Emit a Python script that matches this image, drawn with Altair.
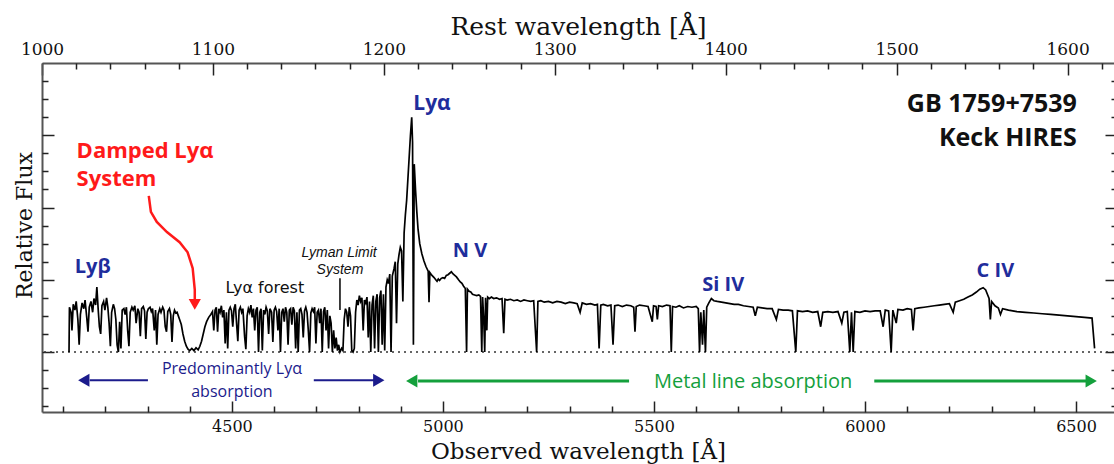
import altair as alt
import pandas as pd

# ---------------- data ----------------
ONE_PLUS_Z = 4.05
OBS_DOMAIN = [4050, 6590]
REST_DOMAIN = [OBS_DOMAIN[0] / ONE_PLUS_Z, OBS_DOMAIN[1] / ONE_PLUS_Z]
FLUX_DOMAIN = [-0.83, 4.0]

# Ly-beta region
wl_lyb = [4114, 4115, 4119, 4121, 4124, 4128, 4131, 4135, 4138, 4141, 4145, 4149, 4152, 4156, 4159,
          4162, 4166, 4170, 4173, 4177, 4180, 4183, 4186, 4189, 4192, 4196, 4199, 4203, 4206, 4209,
          4212, 4215, 4219, 4222, 4225, 4228, 4231, 4234, 4237, 4240, 4244, 4247, 4250, 4253, 4256,
          4259, 4263, 4266, 4270, 4273, 4277, 4280, 4283, 4286, 4290, 4293, 4296, 4299, 4302, 4306,
          4309, 4312, 4316, 4319, 4322, 4325, 4329, 4332, 4336, 4339, 4342, 4345, 4348, 4352, 4355,
          4358, 4361, 4364, 4367, 4370, 4373, 4376]
fx_lyb = [0.00, 0.62, 0.55, 0.30, 0.66, 0.58, 0.70, 0.45, 0.10, 0.52, 0.68, 0.60, 0.72, 0.48, 0.28,
          0.62, 0.70, 0.55, 0.74, 0.65, 0.90, 0.60, 0.35, 0.25, 0.64, 0.70, 0.58, 0.75, 0.62, 0.40,
          0.08, 0.55, 0.66, 0.60, 0.45, 0.10, 0.00, 0.42, 0.05, 0.58, 0.60, 0.52, 0.62, 0.30, 0.08,
          0.55, 0.62, 0.58, 0.64, 0.40, 0.60, 0.55, 0.22, 0.60, 0.63, 0.57, 0.18, 0.55, 0.60, 0.62,
          0.56, 0.60, 0.30, 0.58, 0.10, 0.52, 0.60, 0.55, 0.62, 0.58, 0.35, 0.28, 0.56, 0.60, 0.52,
          0.14, 0.50, 0.58, 0.54, 0.55, 0.50, 0.45]

# damped Ly-alpha trough
wl_dla = [4380, 4384, 4388, 4392, 4396, 4400, 4405, 4410, 4415, 4420, 4424, 4428, 4432, 4436, 4440,
          4445, 4450]
fx_dla = [0.38, 0.25, 0.15, 0.08, 0.04, 0.02, 0.05, 0.02, 0.06, 0.03, 0.08, 0.15, 0.25, 0.35, 0.42,
          0.48, 0.52]

# Ly-alpha forest
wl_forest = [4454, 4457, 4460, 4463, 4466, 4469, 4472, 4475, 4478, 4481, 4484, 4487, 4490, 4493, 4496,
             4499, 4502, 4505, 4508, 4511, 4514, 4517, 4520, 4523, 4526, 4530, 4533, 4536, 4539, 4542,
             4545, 4548, 4551, 4554, 4557, 4560, 4563, 4566, 4569, 4572, 4575, 4578, 4581, 4584, 4587,
             4590, 4594, 4597, 4600, 4603, 4606, 4609, 4612, 4615, 4618, 4621, 4624, 4627, 4630, 4633,
             4636, 4639, 4642, 4645, 4648, 4651, 4654, 4657, 4660, 4663, 4666, 4669, 4672, 4675, 4678,
             4681, 4684, 4687, 4690, 4693, 4696, 4699, 4702, 4705, 4708, 4711, 4714, 4717, 4720, 4723,
             4726, 4729, 4732, 4735, 4738, 4741, 4744, 4747, 4750, 4753, 4756, 4760]
fx_forest = [0.56, 0.30, 0.58, 0.62, 0.28, 0.60, 0.55, 0.64, 0.48, 0.58, 0.12, 0.55, 0.05, 0.58, 0.62,
             0.57, 0.35, 0.60, 0.66, 0.40, 0.15, 0.58, 0.62, 0.55, 0.60, 0.22, 0.04, 0.50, 0.60, 0.55,
             0.65, 0.48, 0.60, 0.30, 0.58, 0.62, 0.00, 0.55, 0.60, 0.02, 0.58, 0.52, 0.62, 0.57, 0.25,
             0.60, 0.55, 0.14, 0.58, 0.62, 0.56, 0.30, 0.60, 0.00, 0.55, 0.60, 0.42, 0.62, 0.55, 0.10,
             0.58, 0.60, 0.38, 0.62, 0.57, 0.05, 0.55, 0.00, 0.58, 0.60, 0.52, 0.20, 0.57, 0.62, 0.55,
             0.30, 0.00, 0.54, 0.60, 0.56, 0.62, 0.12, 0.55, 0.58, 0.40, 0.60, 0.00, 0.56, 0.62, 0.30,
             0.58, 0.05, 0.50, 0.40, 0.00, 0.30, 0.05, 0.20, 0.02, 0.10, 0.00, 0.05]

# Lyman limit system to the foot of Ly-alpha
wl_lls = [4763, 4766, 4769, 4772, 4775, 4778, 4781, 4784, 4787, 4790, 4793, 4796, 4799, 4802, 4805,
          4808, 4811, 4814, 4817, 4820, 4823, 4826, 4829, 4832, 4835, 4838, 4841, 4844, 4847, 4850,
          4853, 4856, 4859, 4862, 4865, 4868, 4871, 4874, 4877]
fx_lls = [0.02, 0.45, 0.60, 0.55, 0.35, 0.62, 0.50, 0.02, 0.00, 0.05, 0.55, 0.72, 0.65, 0.78, 0.70,
          0.75, 0.30, 0.72, 0.68, 0.76, 0.20, 0.70, 0.00, 0.65, 0.78, 0.05, 0.70, 0.80, 0.00, 0.75,
          0.85, 0.10, 0.80, 0.02, 0.90, 1.00, 0.95, 1.08, 0.00]

# Ly-alpha emission line
wl_lya = [4880, 4884, 4887, 4890, 4893, 4896, 4899, 4902, 4905, 4908, 4911, 4914, 4917, 4920, 4923,
          4926, 4928, 4930, 4932, 4935, 4938, 4941, 4945, 4950, 4955, 4960, 4965, 4967, 4969, 4974,
          4979, 4983]
fx_lya = [1.05, 1.15, 1.25, 0.40, 1.22, 1.35, 1.45, 1.40, 0.70, 1.65, 1.90, 2.10, 2.40, 2.70, 3.00,
          3.25, 2.90, 0.10, 2.60, 2.25, 1.95, 1.70, 1.50, 1.36, 1.26, 1.18, 1.12, 0.69, 1.10, 1.06,
          1.03, 1.00]

# red side: N V, Si IV, C IV and metal absorption lines
wl_red = [4986, 4989, 4992, 4996, 5000, 5004, 5008, 5012, 5016, 5020, 5024, 5028, 5032, 5037, 5041,
          5045, 5049, 5053, 5056, 5058, 5062, 5066, 5070, 5075, 5080, 5085, 5089, 5092, 5094, 5097,
          5099, 5101, 5104, 5106, 5110, 5115, 5120, 5127, 5134, 5140, 5144, 5147, 5152, 5160, 5168,
          5176, 5184, 5192, 5200, 5208, 5215, 5222, 5225, 5232, 5240, 5250, 5260, 5270, 5280, 5290,
          5300, 5310, 5318, 5325, 5330, 5340, 5350, 5360, 5366, 5370, 5374, 5380, 5390, 5398, 5403,
          5407, 5415, 5425, 5435, 5445, 5452, 5455, 5458, 5466, 5476, 5486, 5496, 5499, 5505, 5508,
          5511, 5520, 5530, 5538, 5541, 5544, 5552, 5560, 5570, 5580, 5590, 5600, 5605, 5608, 5611,
          5615, 5618, 5622, 5625, 5630, 5636, 5642, 5650, 5660, 5670, 5680, 5690, 5700, 5712, 5724,
          5735, 5740, 5745, 5756, 5768, 5780, 5790, 5795, 5806, 5818, 5828, 5836, 5840, 5852, 5864,
          5876, 5888, 5895, 5900, 5912, 5924, 5936, 5945, 5950, 5958, 5964, 5968, 5972, 5976, 5988,
          6000, 6012, 6024, 6036, 6043, 6048, 6056, 6062, 6066, 6074, 6078, 6090, 6100, 6110, 6114,
          6118, 6128, 6140, 6152, 6164, 6176, 6188, 6200, 6209, 6214, 6224, 6234, 6244, 6254, 6264,
          6272, 6280, 6286, 6290, 6294, 6297, 6300, 6308, 6316, 6321, 6326, 6340, 6360, 6380, 6400,
          6420, 6440, 6460, 6480, 6500, 6520, 6538, 6544]
fx_red = [0.98, 1.01, 0.99, 1.02, 1.03, 1.02, 1.06, 1.07, 1.09, 1.11, 1.08, 1.06, 1.04, 1.00, 0.97,
          0.95, 0.91, 0.88, 0.00, 0.87, 0.84, 0.83, 0.80, 0.79, 0.78, 0.79, 0.77, 0.00, 0.76, 0.40,
          0.00, 0.75, 0.30, 0.76, 0.74, 0.76, 0.74, 0.75, 0.73, 0.74, 0.26, 0.73, 0.72, 0.73, 0.71,
          0.72, 0.70, 0.72, 0.71, 0.70, 0.71, 0.00, 0.70, 0.71, 0.69, 0.70, 0.68, 0.70, 0.69, 0.67,
          0.69, 0.68, 0.67, 0.55, 0.68, 0.66, 0.67, 0.65, 0.66, 0.05, 0.65, 0.66, 0.64, 0.65, 0.10,
          0.64, 0.65, 0.63, 0.65, 0.64, 0.62, 0.28, 0.63, 0.65, 0.64, 0.63, 0.42, 0.64, 0.63, 0.45,
          0.64, 0.63, 0.65, 0.64, 0.00, 0.63, 0.62, 0.64, 0.61, 0.63, 0.62, 0.63, 0.60, 0.00, 0.55,
          0.10, 0.58, 0.00, 0.62, 0.68, 0.74, 0.71, 0.70, 0.69, 0.68, 0.67, 0.66, 0.66, 0.64, 0.63,
          0.62, 0.50, 0.62, 0.61, 0.60, 0.60, 0.45, 0.59, 0.58, 0.58, 0.57, 0.00, 0.57, 0.56, 0.57,
          0.55, 0.56, 0.35, 0.55, 0.56, 0.55, 0.56, 0.40, 0.55, 0.56, 0.00, 0.55, 0.00, 0.56, 0.55,
          0.57, 0.56, 0.57, 0.57, 0.35, 0.58, 0.57, 0.00, 0.58, 0.40, 0.59, 0.58, 0.60, 0.59, 0.30,
          0.60, 0.61, 0.62, 0.63, 0.64, 0.65, 0.66, 0.67, 0.55, 0.69, 0.71, 0.73, 0.76, 0.79, 0.83,
          0.87, 0.89, 0.86, 0.80, 0.74, 0.45, 0.70, 0.64, 0.61, 0.52, 0.60, 0.58, 0.56, 0.55, 0.54,
          0.53, 0.52, 0.51, 0.50, 0.49, 0.48, 0.47, 0.05]

# axis ticks
BOTTOM_MAJOR = [4500, 5000, 5500, 6000, 6500]
BOTTOM_MINOR = [4100, 4200, 4300, 4400, 4600, 4700, 4800, 4900, 5100, 5200, 5300, 5400,
                5600, 5700, 5800, 5900, 6100, 6200, 6300, 6400]
TOP_MAJOR = [1000, 1100, 1200, 1300, 1400, 1500, 1600]
TOP_MINOR = [1020, 1040, 1060, 1080, 1120, 1140, 1160, 1180, 1220, 1240, 1260, 1280,
             1320, 1340, 1360, 1380, 1420, 1440, 1460, 1480, 1520, 1540, 1560, 1580, 1620]
Y_MAJOR = [0, 1, 2, 3]
Y_MINOR = [-0.75, -0.5, -0.25, 0.25, 0.5, 0.75, 1.25, 1.5, 1.75, 2.25, 2.5, 2.75,
           3.25, 3.5, 3.75]

# annotations (observed wavelength, relative flux)
line_labels = ["Lyβ", "Lyα", "N V", "Si IV", "C IV"]
line_label_obs = [4170, 4974, 5064, 5664, 6309]
line_label_flux = [1.09, 3.35, 1.31, 0.84, 1.04]
line_label_size = [20, 21, 20, 20, 20]

dla_text = ["Damped Lyα", "System"]
dla_obs = [4132, 4132]
dla_flux = [2.685, 2.30]

qso_text = ["GB 1759+7539", "Keck HIRES"]
qso_obs = [6502, 6502]
qso_flux = [3.32, 2.85]

dla_arrow_obs = [4303, 4308, 4322, 4346, 4376, 4395, 4407, 4412, 4412]
dla_arrow_flux = [2.16, 1.94, 1.80, 1.66, 1.52, 1.38, 1.16, 0.86, 0.72]
dla_head_obs = [4412]
dla_head_flux = [0.66]

forest_text = ["Lyα forest"]
forest_obs = [4578]
forest_flux = [0.82]

lls_text = ["Lyman Limit", "System"]
lls_obs = [4754, 4756]
lls_flux = [1.32, 1.08]
lls_tick_obs = [4756]
lls_tick_top = [1.02]
lls_tick_bottom = [0.58]

range_text = ["Predominantly Lyα", "absorption", "Metal line absorption"]
range_text_obs = [4500, 4500, 5735]
range_text_flux = [-0.31, -0.625, -0.50]
range_text_size = [16, 16, 20]
range_text_color = ["#1b1b8c", "#1b1b8c", "#14a03c"]

arrow_x1 = [4163, 4694, 4941, 6022]
arrow_x2 = [4301, 4850, 5441, 6534]
arrow_y = [-0.39, -0.39, -0.40, -0.40]
arrow_color = ["#1b1b8c", "#1b1b8c", "#14a03c", "#14a03c"]
arrow_width = [2, 2, 3, 3]
head_obs = [4149, 4848, 4926, 6536]
head_y = [-0.39, -0.39, -0.40, -0.40]
head_shape = ["triangle-left", "triangle-right", "triangle-left", "triangle-right"]

# ---------------- build chart ----------------
spec = pd.DataFrame({
    "obs": wl_lyb + wl_dla + wl_forest + wl_lls + wl_lya + wl_red,
    "flux": fx_lyb + fx_dla + fx_forest + fx_lls + fx_lya + fx_red,
})

SERIF = "DejaVu Serif"
SANS = "Open Sans"
TICK = "#222222"
FRAME = "#555555"
NAVY = "#1f2d9c"

xs = alt.Scale(domain=OBS_DOMAIN, nice=False, zero=False)
ys = alt.Scale(domain=FLUX_DOMAIN, nice=False, zero=False)
rs = alt.Scale(domain=REST_DOMAIN, nice=False, zero=False)


def tick_axis(orient, values, size):
    return alt.Axis(orient=orient, values=values, tickSize=size, offset=-size, labels=False,
                    domain=False, grid=False, title=None, tickColor=TICK, tickWidth=1.5)


bottom_label_axis = alt.Axis(
    orient="bottom", values=BOTTOM_MAJOR, format="d", ticks=False, domain=True,
    domainColor=FRAME, domainWidth=2, grid=False, labelFont=SERIF, labelFontSize=16,
    labelColor="#111111", labelPadding=6, labelFlush=False,
    title="Observed wavelength [Å]", titleFont=SERIF, titleFontSize=23,
    titleFontWeight="normal", titleColor="#111111", titleY=46, titleBaseline="alphabetic")

left_title_axis = alt.Axis(
    orient="left", ticks=False, labels=False, domain=True, domainColor=FRAME, domainWidth=2,
    grid=False, title="Relative Flux", titleFont=SERIF, titleFontSize=22,
    titleFontWeight="normal", titleColor="#111111", titleX=-11, titleY=162, titleAngle=270,
    titleBaseline="alphabetic", titleAlign="center")

top_label_axis = alt.Axis(
    orient="top", values=TOP_MAJOR, format="d", ticks=False, domain=True, domainColor=FRAME,
    domainWidth=2, grid=False, labelFont=SERIF, labelFontSize=17, labelColor="#111111",
    labelPadding=5, labelFlush=False, title="Rest wavelength [Å]", titleFont=SERIF,
    titleFontSize=25, titleFontWeight="normal", titleColor="#111111", titleY=-29,
    titleBaseline="alphabetic")

spectrum = alt.Chart(spec).mark_line(color="black", strokeWidth=1.7).encode(
    x=alt.X("obs:Q", scale=xs, axis=bottom_label_axis),
    y=alt.Y("flux:Q", scale=ys, axis=left_title_axis),
)

zero_line = alt.Chart(pd.DataFrame({"flux": [0.0]})).mark_rule(
    color="#333333", strokeDash=[2, 4], strokeWidth=1.5).encode(
    y=alt.Y("flux:Q", scale=ys, axis=None))

dla_arrow_df = pd.DataFrame({"obs": dla_arrow_obs, "flux": dla_arrow_flux,
                             "i": list(range(len(dla_arrow_obs)))})
dla_arrow = alt.Chart(dla_arrow_df).mark_line(color="#ff1a1a", strokeWidth=2.5).encode(
    x=alt.X("obs:Q", scale=xs, axis=tick_axis("bottom", BOTTOM_MAJOR, 11)),
    y=alt.Y("flux:Q", scale=ys, axis=tick_axis("left", Y_MAJOR, 12)),
    order="i:Q",
)
dla_head = alt.Chart(pd.DataFrame({"obs": dla_head_obs, "flux": dla_head_flux})).mark_point(
    shape="triangle-down", filled=True, color="#ff1a1a", size=150, opacity=1).encode(
    x=alt.X("obs:Q", scale=xs, axis=tick_axis("bottom", BOTTOM_MINOR, 6)),
    y=alt.Y("flux:Q", scale=ys, axis=tick_axis("left", Y_MINOR, 6)),
)

lls_tick = alt.Chart(pd.DataFrame({"obs": lls_tick_obs, "top": lls_tick_top,
                                   "bottom": lls_tick_bottom})).mark_rule(
    color="black", strokeWidth=1.5).encode(
    x=alt.X("obs:Q", scale=xs, axis=None),
    y=alt.Y("top:Q", scale=ys, axis=tick_axis("right", Y_MAJOR, 9)),
    y2="bottom:Q",
)

arrow_df = pd.DataFrame({"x1": arrow_x1, "x2": arrow_x2, "y": arrow_y, "c": arrow_color,
                         "w": arrow_width})
arrows = alt.Chart(arrow_df).mark_rule().encode(
    x=alt.X("x1:Q", scale=xs, axis=None),
    x2="x2:Q",
    y=alt.Y("y:Q", scale=ys, axis=tick_axis("right", Y_MINOR, 3)),
    color=alt.Color("c:N", scale=None),
    strokeWidth=alt.StrokeWidth("w:Q", scale=None),
)
head_df = pd.DataFrame({"obs": head_obs, "y": head_y, "c": arrow_color, "s": head_shape})
heads = alt.Chart(head_df).mark_point(filled=True, size=170, opacity=1).encode(
    x=alt.X("obs:Q", scale=xs, axis=None),
    y=alt.Y("y:Q", scale=ys, axis=None),
    color=alt.Color("c:N", scale=None),
    shape=alt.Shape("s:N", scale=None),
)


def text_layer(texts, obs, flux, colors, sizes, font, weight, align, style="normal"):
    df = pd.DataFrame({"t": texts, "obs": obs, "flux": flux, "c": colors, "s": sizes})
    return alt.Chart(df).mark_text(font=font, fontWeight=weight, align=align,
                                   baseline="alphabetic", fontStyle=style).encode(
        x=alt.X("obs:Q", scale=xs, axis=None),
        y=alt.Y("flux:Q", scale=ys, axis=None),
        text="t:N",
        color=alt.Color("c:N", scale=None),
        size=alt.Size("s:Q", scale=None),
    )


t_lines = text_layer(line_labels, line_label_obs, line_label_flux, [NAVY] * 5,
                     line_label_size, SANS, "bold", "center")
t_dla = text_layer(dla_text, dla_obs, dla_flux, ["#ff1a1a"] * 2, [22, 22], SANS, "bold", "left")
t_qso = text_layer(qso_text, qso_obs, qso_flux, ["#111111"] * 2, [25, 25], SANS, "bold", "right")
t_forest = text_layer(forest_text, forest_obs, forest_flux, ["#111111"], [16],
                      "DejaVu Sans", "normal", "center")
t_lls = text_layer(lls_text, lls_obs, lls_flux, ["#111111"] * 2, [14, 14],
                   "Liberation Sans", "normal", "center", style="italic")
t_range = text_layer(range_text, range_text_obs, range_text_flux, range_text_color,
                     range_text_size, SANS, "normal", "center")

obs_group = alt.layer(
    zero_line, spectrum, dla_arrow, dla_head, lls_tick, arrows, heads,
    t_lines, t_dla, t_qso, t_forest, t_lls, t_range,
).resolve_axis(x="independent", y="independent")

rest_df = pd.DataFrame({"rest": REST_DOMAIN, "flux": [0.0, 0.0]})
rest_base = alt.Chart(rest_df).mark_point(opacity=0)
rest_labels = rest_base.encode(x=alt.X("rest:Q", scale=rs, axis=top_label_axis),
                               y=alt.Y("flux:Q", scale=ys, axis=None))
rest_major = rest_base.encode(x=alt.X("rest:Q", scale=rs, axis=tick_axis("top", TOP_MAJOR, 12)),
                              y=alt.Y("flux:Q", scale=ys, axis=None))
rest_minor = rest_base.encode(x=alt.X("rest:Q", scale=rs, axis=tick_axis("top", TOP_MINOR, 6)),
                              y=alt.Y("flux:Q", scale=ys, axis=None))
rest_group = alt.layer(rest_labels, rest_major, rest_minor).resolve_axis(x="independent")

chart = alt.layer(obs_group, rest_group).resolve_scale(x="independent").resolve_axis(
    x="independent", y="independent").properties(
    width=1072, height=349,
    autosize=alt.AutoSizeParams(type="none"),
    padding={"left": 42, "top": 63, "right": 0, "bottom": 52},
    background="white",
).configure_view(stroke=None)

chart.save("out.html", embed_options={"renderer": "svg", "actions": False})
